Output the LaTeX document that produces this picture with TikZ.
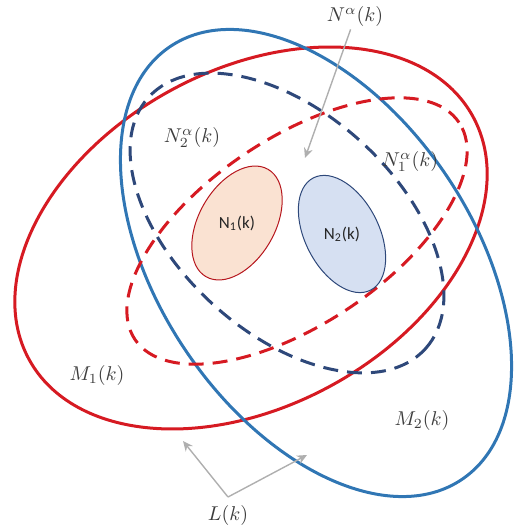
\documentclass[tikz,border=0pt]{standalone}
\usepackage{xcolor}
\usepackage{fontspec}
\newfontfamily\calibri{Carlito}
\usetikzlibrary{arrows.meta,positioning,calc}

\definecolor{setred}{RGB}{214,26,34}
\definecolor{setblue}{RGB}{48,118,180}
\definecolor{navyblue}{RGB}{46,72,122}
\definecolor{peach}{RGB}{250,226,210}
\definecolor{paleblue}{RGB}{214,224,242}
\definecolor{labelgray}{RGB}{60,60,60}
\definecolor{arrowgray}{RGB}{175,175,175}

\begin{document}
\begin{tikzpicture}[x=0.5pt, y=0.5pt,
    setline/.style={line width=1.5pt},
    dashline/.style={line width=1.5pt, dash pattern=on 7.5pt off 4.5pt},
    inner/.style={line width=0.5pt},
    mathlabel/.style={text=labelgray, inner sep=1pt},
    setlabel/.style={font=\calibri\fontsize{8.5}{10}\selectfont, text=black!85, inner sep=1pt},
    pointer/.style={arrowgray, line width=0.7pt, -{Stealth[length=5pt, width=4.5pt]}}
]
    \useasboundingbox (0,0) rectangle (515,-528);

    % centres of the sets
    \coordinate (m1) at (251,-238);
    \coordinate (m2) at (316,-263);
    \coordinate (n1a) at (297,-231);
    \coordinate (n2a) at (287,-223);
    \coordinate (n1) at (237,-223);
    \coordinate (n2) at (342,-234);

    % outer sets
    \draw[setline, setred, rotate around={28.7:(m1)}] (m1) ellipse [x radius=253, y radius=168];
    \draw[setline, setblue, rotate around={-56:(m2)}] (m2) ellipse [x radius=261, y radius=157];

    % alpha neighbourhoods
    \draw[dashline, setred, rotate around={33.8:(n1a)}] (n1a) ellipse [x radius=195, y radius=93];
    \draw[dashline, navyblue, rotate around={-42.3:(n2a)}] (n2a) ellipse [x radius=187, y radius=110];

    % inner sets
    \draw[inner, draw=setred!85!black, fill=peach, rotate around={60:(n1)}] (n1) ellipse [x radius=62, y radius=38];
    \draw[inner, draw=navyblue, fill=paleblue, rotate around={117:(n2)}] (n2) ellipse [x radius=63, y radius=37];
    \node[setlabel] (n1lab) at (n1) {N\textsubscript{1}(k)};
    \node[setlabel] (n2lab) at (n2) {N\textsubscript{2}(k)};

    % labels
    \node[mathlabel] (na) at (355,-17) {$N^{\alpha}(k)$};
    \node[mathlabel] (n2alab) at (192,-138) {$N_2^{\alpha}(k)$};
    \node[mathlabel] (n1alab) at (410,-162) {$N_1^{\alpha}(k)$};
    \node[mathlabel] (m1lab) at (97,-375) {$M_1(k)$};
    \node[mathlabel] (m2lab) at (422,-420) {$M_2(k)$};
    \node[mathlabel] (lk) at (228,-515) {$L(k)$};

    % pointers
    \coordinate (natip) at (305,-158);
    \coordinate (lkroot) at (228,-497);
    \coordinate (lkleft) at (183,-441);
    \coordinate (lkright) at (307,-455);
    \draw[pointer] (na) -- (natip);
    \draw[pointer] (lkroot) -- (lkleft);
    \draw[pointer] (lkroot) -- (lkright);
\end{tikzpicture}
\end{document}
